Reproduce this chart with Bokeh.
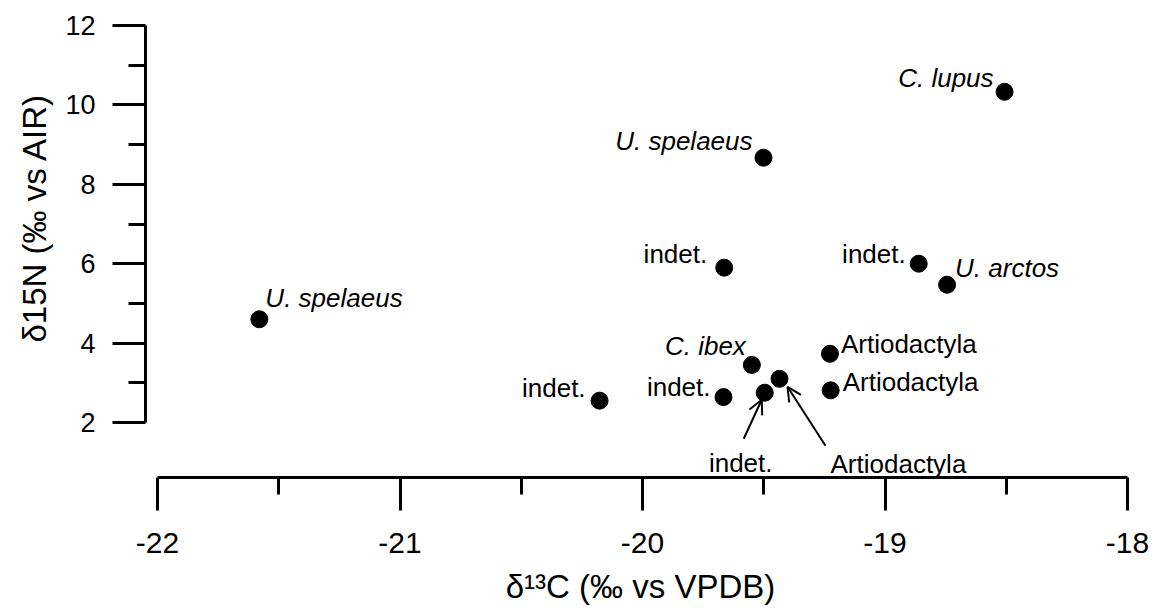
from bokeh.plotting import figure
from bokeh.models import ColumnDataSource, FixedTicker, Arrow, OpenHead, Range1d, Title
from bokeh.embed import file_html
from bokeh.resources import INLINE
from bokeh.core.properties import value

# ---- data ----
d13c = [-21.58, -20.177, -19.666, -19.549, -19.496, -19.435, -19.227, -19.224,
        -19.501, -19.663, -18.861, -18.744, -18.507]
d15n = [4.60, 2.55, 2.64, 3.45, 2.75, 3.10, 3.73, 2.81,
        8.67, 5.90, 6.00, 5.47, 10.33]
taxa = ["U. spelaeus", "indet.", "indet.", "C. ibex", "indet.", "Artiodactyla",
        "Artiodactyla", "Artiodactyla", "U. spelaeus", "indet.", "indet.",
        "U. arctos", "C. lupus"]
italic = [True, False, False, True, False, False, False, False,
          True, False, False, True, True]
x_ticks = [-22, -21, -20, -19, -18]
x_tick_labels = ["-22", "-21", "-20", "-19", "-18"]
y_ticks = [2, 4, 6, 8, 10, 12]
y_tick_labels = ["2", "4", "6", "8", "10", "12"]
x_title = "δ¹³C (‰ vs VPDB)"
y_title = "δ15N (‰ vs AIR)"
arrowed = [4, 5]

# ---- styles / layout ----
FONT = "Liberation Sans"
label_dx = [6, -14, -13, -6, -24, 51, 11, 12, -11, -17, -13, 8, -11]
label_dy = [-21, -13, -10, -19, 70, 85, -10, -8, -17, -14, -10, -17, -14]
label_align = ["left", "right", "right", "right", "center", "left", "left",
               "left", "right", "right", "right", "left", "right"]
arrow_tail_px = [(-21, 46), (46, 67)]
arrow_tip_px = [(-3, 7), (8, 8)]

PX_X = 242.5   # pixels per unit on x
PX_Y = 39.7    # pixels per unit on y
x0 = x_ticks[0] - 12 / PX_X
x1 = x_ticks[-1] + 8 / PX_X
y0 = y_ticks[0] - 55 / PX_Y
y1 = y_ticks[-1] + 8 / PX_Y

p = figure(width=1156, height=608, x_range=Range1d(x0, x1), y_range=Range1d(y0, y1),
           output_backend="svg", toolbar_location=None,
           min_border_left=145, min_border_right=21, min_border_top=17,
           min_border_bottom=131)
p.xgrid.visible = False
p.ygrid.visible = False
p.outline_line_color = None
p.background_fill_color = "white"
p.border_fill_color = "white"

x_minor = [(a + b) / 2 for a, b in zip(x_ticks[:-1], x_ticks[1:])]
y_minor = [(a + b) / 2 for a, b in zip(y_ticks[:-1], y_ticks[1:])]
p.xaxis.ticker = FixedTicker(ticks=x_ticks, minor_ticks=x_minor)
p.yaxis.ticker = FixedTicker(ticks=y_ticks, minor_ticks=y_minor)
p.xaxis.major_label_overrides = {t: l for t, l in zip(x_ticks, x_tick_labels)}
p.yaxis.major_label_overrides = {t: l for t, l in zip(y_ticks, y_tick_labels)}
p.xaxis.bounds = (x_ticks[0], x_ticks[-1])
p.yaxis.bounds = (y_ticks[0], y_ticks[-1])
p.xaxis.axis_label = x_title

for ax in (p.xaxis, p.yaxis):
    ax.axis_line_color = "black"
    ax.axis_line_width = 3
    ax.major_tick_line_color = "black"
    ax.major_tick_line_width = 3
    ax.minor_tick_line_color = "black"
    ax.minor_tick_line_width = 3
    ax.major_tick_in = 0
    ax.major_tick_out = 33
    ax.minor_tick_in = 0
    ax.minor_tick_out = 17
    ax.major_label_text_font = FONT
    ax.major_label_text_color = "black"
    ax.axis_label_text_font = FONT
    ax.axis_label_text_font_style = "normal"
    ax.axis_label_text_font_size = "33px"
    ax.axis_label_text_color = "black"
p.xaxis.major_label_standoff = 22
p.yaxis.major_label_standoff = 17
p.xaxis.major_label_text_font_size = "30px"
p.yaxis.major_label_text_font_size = "27px"
p.xaxis.axis_label_standoff = 12

# y-axis title as a side title, shifted to sit beside the bounded axis line
p.add_layout(Title(text=y_title, align="left", offset=135, standoff=20,
                   text_font=FONT, text_font_size="33px", text_font_style="normal",
                   text_color="black"), "left")

# arrows
xs, ys, xe, ye = [], [], [], []
for k, i in enumerate(arrowed):
    xs.append(d13c[i] + arrow_tail_px[k][0] / PX_X)
    ys.append(d15n[i] - arrow_tail_px[k][1] / PX_Y)
    xe.append(d13c[i] + arrow_tip_px[k][0] / PX_X)
    ye.append(d15n[i] - arrow_tip_px[k][1] / PX_Y)
asrc = ColumnDataSource(dict(xs=xs, ys=ys, xe=xe, ye=ye))
p.add_layout(Arrow(end=OpenHead(size=14, line_width=2, line_color="black"),
                   x_start="xs", y_start="ys", x_end="xe", y_end="ye",
                   source=asrc, line_width=2, line_color="black"))

src = ColumnDataSource(dict(
    x=d13c, y=d15n, label=taxa,
    style=["italic" if it else "normal" for it in italic],
    dx=label_dx, dy=label_dy, align=label_align))

p.scatter(x="x", y="y", source=src, size=17, fill_color="black", line_color="black")
p.text(x="x", y="y", text="label", source=src, x_offset="dx", y_offset="dy",
       text_align="align", text_font_style="style", text_baseline="alphabetic",
       text_font=value(FONT), text_font_size=value("26px"), text_color="black")

open("out.html", "w").write(file_html(p, INLINE))
